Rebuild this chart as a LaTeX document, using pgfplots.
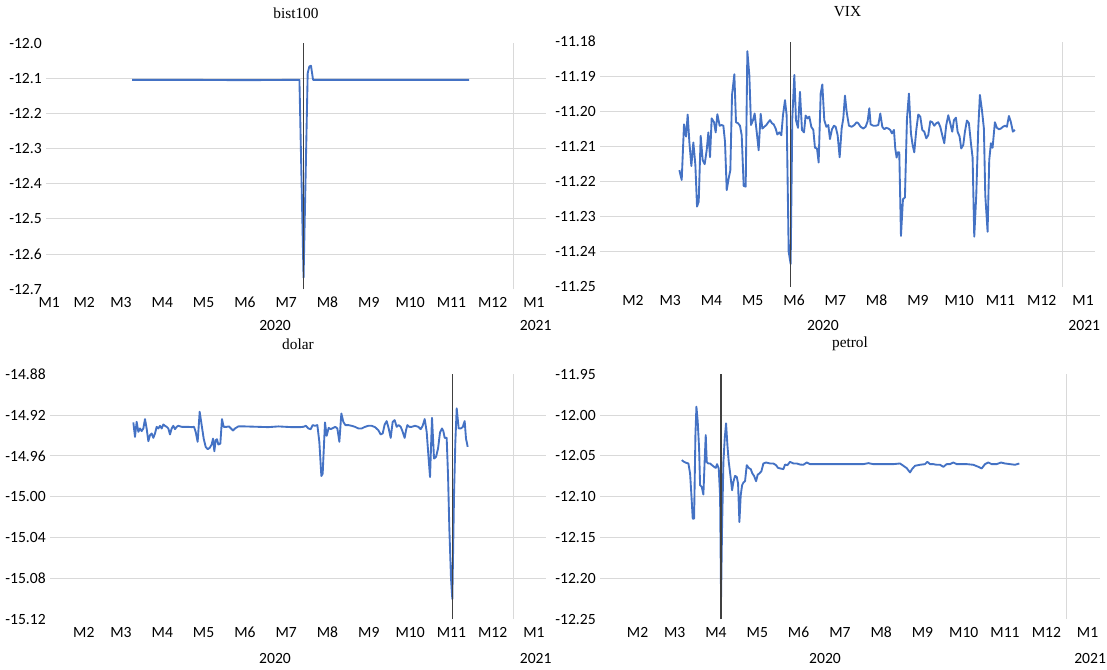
\documentclass[border=0pt]{standalone}
\usepackage{fontspec}
\setmainfont{Liberation Serif}
\newfontfamily\tickfont{Carlito}
\usepackage{pgfplots}
\pgfplotsset{compat=1.18}
\definecolor{xlblue}{HTML}{4472C4}
\definecolor{gridgray}{HTML}{D9D9D9}
\definecolor{vline}{HTML}{404040}

\pgfplotsset{
  panel/.style={
    anchor=south west,
    scale only axis,
    axis line style={draw=none},
    tick style={draw=none},
    xticklabel style={font=\fontsize{11.7}{13}\tickfont, anchor=center, yshift=-10pt},
    yticklabel style={font=\fontsize{11.7}{13}\tickfont, anchor=east, inner sep=0pt, xshift=-3pt},
    extra x ticks={12},
    extra x tick labels={},
    extra x tick style={grid=major},
    extra y tick labels={},
    extra y tick style={grid=major},
    grid style={gridgray, line width=0.75pt},
    every axis title shift=0pt,
    title style={font=\fontsize{11.5}{13}\selectfont, at={(0.5,1)}, anchor=center, yshift=22.5pt},
    clip=false,
  },
  series/.style={xlblue, line width=1.4pt, line join=round},
  mark line/.style={vline, line width=0.9pt},
  months/.style={
    xtick={1.6,2.5,3.5,4.5,5.5,6.5,7.5,8.5,9.5,10.5,11.5,12.5},
    xticklabels={M2,M3,M4,M5,M6,M7,M8,M9,M10,M11,M12,M1},
  },
}

\begin{document}
\begin{tikzpicture}
\useasboundingbox (0,0) rectangle (830.25pt,501.75pt);

% bist100
\begin{axis}[panel, at={(34.5pt,284.8pt)}, width=375pt, height=184.5pt,
  xmin=0.684, xmax=12.79, ymin=-12.7, ymax=-12.0,
  xtick={0.76,1.61,2.5,3.5,4.5,5.5,6.5,7.5,8.5,9.5,10.5,11.5,12.5},
  xticklabels={M1,M2,M3,M4,M5,M6,M7,M8,M9,M10,M11,M12,M1},
  ytick={-12.7,-12.6,-12.5,-12.4,-12.3,-12.2,-12.1,-12.0},
  yticklabels={-12.7,-12.6,-12.5,-12.4,-12.3,-12.2,-12.1,-12.0},
  extra y ticks={-12.6,-12.5,-12.4,-12.3,-12.2,-12.1},
  title={bist100}]
\addplot[series] coordinates {(2.77,-12.104)(4.0,-12.104)(5.5,-12.105)(6.82,-12.104)
  (6.92,-12.667)(7.02,-12.085)(7.06,-12.066)(7.10,-12.064)(7.15,-12.104)(8.5,-12.104)(10.93,-12.104)};
\addplot[mark line] coordinates {(6.91,-12.7)(6.91,-12.0)};
\node[font=\fontsize{11.7}{13}\tickfont] at (axis cs:6.23,-12.7) [yshift=-26.8pt] {2020};
\node[font=\fontsize{11.7}{13}\tickfont] at (axis cs:12.54,-12.7) [yshift=-26.8pt] {2021};
\end{axis}

% VIX
\begin{axis}[panel, months, at={(450pt,286.7pt)}, width=371.25pt, height=183.75pt,
  xmin=0.80, xmax=12.79, ymin=-11.25, ymax=-11.18,
  ytick={-11.25,-11.24,-11.23,-11.22,-11.21,-11.20,-11.19,-11.18},
  yticklabels={-11.25,-11.24,-11.23,-11.22,-11.21,-11.20,-11.19,-11.18},
  extra y ticks={-11.24,-11.23,-11.22,-11.21,-11.20,-11.19},
  title={VIX}]
\addplot[series] coordinates {(2.722,-11.2167)(2.779,-11.2195)(2.835,-11.2036)(2.884,-11.2071)(2.924,-11.2008)(2.964,-11.2086)(3.013,-11.2155)(3.061,-11.2088)(3.110,-11.2152)(3.150,-11.2271)(3.191,-11.2257)(3.239,-11.2069)(3.287,-11.2138)(3.336,-11.2150)(3.384,-11.2110)(3.425,-11.2059)(3.465,-11.2130)(3.505,-11.2019)(3.562,-11.2030)(3.602,-11.2059)(3.642,-11.2007)(3.699,-11.2040)(3.747,-11.2038)(3.788,-11.2040)(3.828,-11.2086)(3.869,-11.2224)(3.917,-11.2190)(3.957,-11.2167)(3.998,-11.1952)(4.054,-11.1893)(4.094,-11.2030)(4.143,-11.2033)(4.191,-11.2040)(4.232,-11.2067)(4.280,-11.2212)(4.329,-11.2214)(4.369,-11.1827)(4.417,-11.1895)(4.458,-11.2038)(4.506,-11.2024)(4.546,-11.2005)(4.595,-11.2057)(4.643,-11.2110)(4.692,-11.2006)(4.732,-11.2048)(4.780,-11.2043)(4.829,-11.2038)(4.877,-11.2030)(4.918,-11.2024)(4.966,-11.2033)(5.006,-11.2036)(5.055,-11.2048)(5.095,-11.2065)(5.144,-11.2059)(5.192,-11.2067)(5.232,-11.2010)(5.281,-11.1967)(5.321,-11.2010)(5.370,-11.2400)(5.418,-11.2435)(5.458,-11.2019)(5.507,-11.1895)(5.547,-11.2024)(5.596,-11.2046)(5.644,-11.1943)(5.692,-11.2052)(5.741,-11.2059)(5.781,-11.2011)(5.830,-11.2019)(5.870,-11.2014)(5.918,-11.2043)(5.967,-11.2052)(6.007,-11.2103)(6.056,-11.2105)(6.096,-11.2145)(6.145,-11.1948)(6.185,-11.1922)(6.233,-11.2024)(6.282,-11.2043)(6.330,-11.2038)(6.370,-11.2078)(6.419,-11.2050)(6.467,-11.2040)(6.508,-11.2043)(6.556,-11.2067)(6.605,-11.2130)(6.653,-11.2048)(6.693,-11.2019)(6.734,-11.1954)(6.774,-11.2000)(6.830,-11.2040)(6.895,-11.2043)(6.960,-11.2038)(7.016,-11.2030)(7.056,-11.2033)(7.113,-11.2043)(7.177,-11.2048)(7.234,-11.2043)(7.283,-11.2027)(7.323,-11.1990)(7.355,-11.2036)(7.420,-11.2040)(7.484,-11.2040)(7.541,-11.2038)(7.589,-11.2005)(7.638,-11.2043)(7.686,-11.2050)(7.734,-11.2046)(7.783,-11.2048)(7.831,-11.2052)(7.872,-11.2062)(7.920,-11.2052)(7.952,-11.2105)(7.985,-11.2131)(8.009,-11.2116)(8.049,-11.2116)(8.090,-11.2355)(8.138,-11.2250)(8.186,-11.2245)(8.235,-11.2021)(8.283,-11.1948)(8.332,-11.2062)(8.372,-11.2095)(8.412,-11.2116)(8.461,-11.2052)(8.509,-11.2008)(8.558,-11.2014)(8.606,-11.2052)(8.655,-11.2057)(8.703,-11.2076)(8.751,-11.2067)(8.800,-11.2027)(8.848,-11.2030)(8.897,-11.2040)(8.945,-11.2033)(8.994,-11.2030)(9.042,-11.2043)(9.090,-11.2067)(9.139,-11.2090)(9.187,-11.2038)(9.236,-11.2010)(9.284,-11.2033)(9.332,-11.2057)(9.373,-11.2024)(9.421,-11.2017)(9.462,-11.2057)(9.510,-11.2071)(9.550,-11.2105)(9.599,-11.2095)(9.639,-11.2057)(9.688,-11.2025)(9.736,-11.2033)(9.785,-11.2090)(9.825,-11.2131)(9.865,-11.2357)(9.914,-11.2238)(9.962,-11.2048)(10.002,-11.1952)(10.051,-11.1995)(10.099,-11.2048)(10.132,-11.2238)(10.188,-11.2343)(10.228,-11.2138)(10.269,-11.2090)(10.309,-11.2103)(10.365,-11.2030)(10.414,-11.2046)(10.462,-11.2050)(10.511,-11.2048)(10.559,-11.2043)(10.608,-11.2040)(10.656,-11.2043)(10.705,-11.2012)(10.753,-11.2030)(10.801,-11.2057)(10.850,-11.2052)};
\addplot[mark line] coordinates {(5.42,-11.25)(5.42,-11.18)};
\node[font=\fontsize{11.7}{13}\tickfont] at (axis cs:6.2,-11.25) [yshift=-28.9pt] {2020};
\node[font=\fontsize{11.7}{13}\tickfont] at (axis cs:12.53,-11.25) [yshift=-28.9pt] {2021};
\end{axis}

% dolar
\begin{axis}[panel, months, at={(37.5pt,37.35pt)}, width=372pt, height=183.7pt,
  xmin=0.781, xmax=12.79, ymin=-15.12, ymax=-14.88,
  ytick={-15.12,-15.08,-15.04,-15.00,-14.96,-14.92,-14.88},
  yticklabels={-15.12,-15.08,-15.04,-15.00,-14.96,-14.92,-14.88},
  extra y ticks={-15.08,-15.04,-15.00,-14.96,-14.92},
  title={dolar}]
\addplot[series] coordinates {(2.799,-14.9272)(2.839,-14.9413)(2.879,-14.9266)(2.920,-14.9364)(2.960,-14.9331)(3.000,-14.9357)(3.041,-14.9331)(3.081,-14.9239)(3.121,-14.9331)(3.162,-14.9456)(3.202,-14.9397)(3.243,-14.9380)(3.283,-14.9423)(3.323,-14.9380)(3.364,-14.9315)(3.404,-14.9331)(3.444,-14.9305)(3.485,-14.9331)(3.525,-14.9292)(3.565,-14.9305)(3.606,-14.9315)(3.646,-14.9331)(3.686,-14.9390)(3.727,-14.9331)(3.767,-14.9305)(3.808,-14.9338)(3.848,-14.9315)(3.888,-14.9305)(3.969,-14.9315)(4.050,-14.9315)(4.130,-14.9315)(4.211,-14.9318)(4.268,-14.9315)(4.308,-14.9364)(4.356,-14.9462)(4.405,-14.9167)(4.453,-14.9298)(4.502,-14.9430)(4.550,-14.9511)(4.599,-14.9534)(4.647,-14.9521)(4.695,-14.9489)(4.728,-14.9430)(4.760,-14.9554)(4.792,-14.9446)(4.824,-14.9436)(4.857,-14.9489)(4.905,-14.9479)(4.945,-14.9239)(4.986,-14.9315)(5.059,-14.9315)(5.115,-14.9311)(5.163,-14.9331)(5.212,-14.9351)(5.260,-14.9331)(5.341,-14.9311)(5.502,-14.9311)(5.825,-14.9315)(6.067,-14.9318)(6.309,-14.9311)(6.632,-14.9318)(6.834,-14.9318)(6.915,-14.9315)(6.979,-14.9305)(7.036,-14.9331)(7.093,-14.9338)(7.141,-14.9298)(7.197,-14.9305)(7.254,-14.9298)(7.302,-14.9462)(7.351,-14.9797)(7.383,-14.9774)(7.439,-14.9272)(7.480,-14.9403)(7.528,-14.9325)(7.577,-14.9338)(7.641,-14.9325)(7.690,-14.9315)(7.738,-14.9331)(7.787,-14.9462)(7.835,-14.9184)(7.883,-14.9266)(7.932,-14.9298)(8.004,-14.9298)(8.085,-14.9305)(8.166,-14.9315)(8.247,-14.9331)(8.327,-14.9331)(8.408,-14.9315)(8.489,-14.9305)(8.569,-14.9305)(8.650,-14.9318)(8.731,-14.9348)(8.787,-14.9390)(8.836,-14.9380)(8.884,-14.9292)(8.933,-14.9259)(8.981,-14.9331)(9.030,-14.9423)(9.078,-14.9266)(9.126,-14.9249)(9.175,-14.9315)(9.223,-14.9298)(9.272,-14.9315)(9.320,-14.9364)(9.368,-14.9423)(9.401,-14.9348)(9.433,-14.9298)(9.481,-14.9315)(9.538,-14.9315)(9.619,-14.9305)(9.699,-14.9315)(9.756,-14.9338)(9.804,-14.9305)(9.853,-14.9239)(9.901,-14.9364)(9.942,-14.9593)(9.982,-14.9807)(10.030,-14.9226)(10.079,-14.9626)(10.127,-14.9610)(10.176,-14.9528)(10.224,-14.9370)(10.272,-14.9331)(10.305,-14.9357)(10.337,-14.9423)(10.385,-14.9423)(10.418,-14.9790)(10.450,-15.0315)(10.490,-15.0800)(10.522,-15.1003)(10.563,-14.9987)(10.595,-14.9462)(10.628,-14.9134)(10.676,-14.9331)(10.724,-14.9331)(10.773,-14.9318)(10.821,-14.9259)(10.853,-14.9430)(10.894,-14.9511)};
\addplot[mark line] coordinates {(10.53,-15.12)(10.53,-14.88)};
\node[font=\fontsize{11.7}{13}\tickfont] at (axis cs:6.23,-15.12) [yshift=-29.3pt] {2020};
\node[font=\fontsize{11.7}{13}\tickfont] at (axis cs:12.54,-15.12) [yshift=-29.3pt] {2021};
\end{axis}

% petrol
\begin{axis}[panel, months, at={(450pt,37.5pt)}, width=375pt, height=183.6pt,
  xmin=0.69, xmax=12.80, ymin=-12.25, ymax=-11.95,
  ytick={-12.25,-12.20,-12.15,-12.10,-12.05,-12.00,-11.95},
  yticklabels={-12.25,-12.20,-12.15,-12.10,-12.05,-12.00,-11.95},
  extra y ticks={-12.20,-12.15,-12.10,-12.05,-12.00},
  title={petrol}]
\addplot[series] coordinates {(2.670,-12.0553)(2.726,-12.0574)(2.775,-12.0586)(2.831,-12.0594)(2.872,-12.0717)(2.904,-12.0984)(2.936,-12.1270)(2.969,-12.1270)(3.001,-12.0246)(3.025,-11.9898)(3.057,-12.0082)(3.090,-12.0410)(3.114,-12.0861)(3.154,-12.0881)(3.194,-12.0975)(3.227,-12.0533)(3.251,-12.0246)(3.275,-12.0574)(3.308,-12.0594)(3.356,-12.0594)(3.404,-12.0615)(3.453,-12.0635)(3.493,-12.0648)(3.525,-12.0602)(3.566,-12.0656)(3.598,-12.0984)(3.622,-12.2234)(3.646,-12.1393)(3.679,-12.0574)(3.711,-12.0287)(3.743,-12.0102)(3.776,-12.0369)(3.808,-12.0574)(3.848,-12.0738)(3.889,-12.0922)(3.921,-12.0820)(3.961,-12.0746)(4.002,-12.0758)(4.034,-12.0840)(4.066,-12.1311)(4.098,-12.0984)(4.131,-12.0861)(4.163,-12.0828)(4.203,-12.0811)(4.244,-12.0615)(4.292,-12.0648)(4.341,-12.0664)(4.381,-12.0717)(4.421,-12.0746)(4.470,-12.0811)(4.510,-12.0730)(4.550,-12.0717)(4.599,-12.0689)(4.647,-12.0594)(4.712,-12.0582)(4.809,-12.0594)(4.889,-12.0594)(4.954,-12.0615)(5.002,-12.0648)(5.067,-12.0656)(5.131,-12.0664)(5.172,-12.0607)(5.228,-12.0615)(5.293,-12.0574)(5.374,-12.0594)(5.454,-12.0594)(5.535,-12.0607)(5.616,-12.0610)(5.697,-12.0582)(5.777,-12.0602)(5.898,-12.0602)(6.019,-12.0602)(6.342,-12.0602)(6.746,-12.0602)(7.068,-12.0602)(7.190,-12.0590)(7.311,-12.0602)(7.553,-12.0602)(7.795,-12.0602)(7.956,-12.0594)(8.037,-12.0622)(8.118,-12.0651)(8.199,-12.0704)(8.247,-12.0663)(8.320,-12.0622)(8.441,-12.0610)(8.562,-12.0602)(8.618,-12.0573)(8.683,-12.0602)(8.763,-12.0602)(8.844,-12.0610)(8.925,-12.0610)(9.006,-12.0635)(9.087,-12.0602)(9.167,-12.0602)(9.248,-12.0582)(9.329,-12.0602)(9.409,-12.0602)(9.571,-12.0602)(9.732,-12.0610)(9.853,-12.0635)(9.934,-12.0655)(10.015,-12.0602)(10.095,-12.0582)(10.176,-12.0602)(10.297,-12.0602)(10.402,-12.0582)(10.499,-12.0594)(10.620,-12.0602)(10.741,-12.0610)(10.846,-12.0594)};
\addplot[mark line] coordinates {(3.62,-12.25)(3.62,-11.95)};
\node[font=\fontsize{11.7}{13}\tickfont] at (axis cs:6.14,-12.25) [yshift=-29.3pt] {2020};
\node[font=\fontsize{11.7}{13}\tickfont] at (axis cs:12.56,-12.25) [yshift=-29.3pt] {2021};
\end{axis}
\end{tikzpicture}
\end{document}
